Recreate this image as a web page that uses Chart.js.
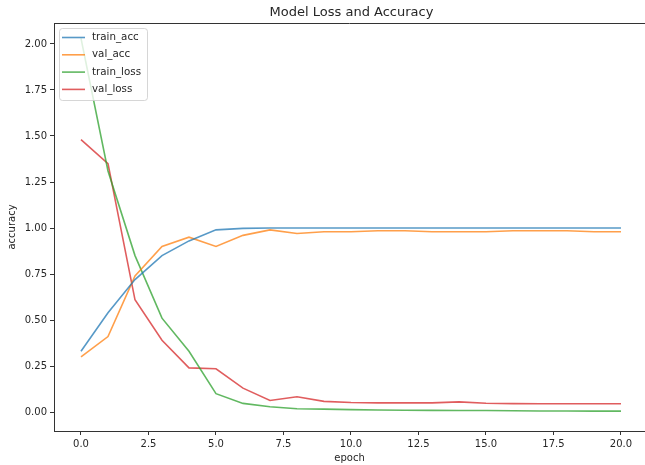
<!DOCTYPE html>
<html>
<head>
<meta charset="utf-8">
<script src="https://cdn.jsdelivr.net/npm/chart.js@4/dist/chart.umd.min.js"></script>
<style>
  body { margin: 0; background: #fff; }
  canvas { display: block; }
</style>
</head>
<body>
<canvas id="lossChart" width="645" height="465"></canvas>
<script>
// Valores
const epochs = [0, 1, 2, 3, 4, 5, 6, 7, 8, 9, 10, 11, 12, 13, 14, 15, 16, 17, 18, 19, 20];
const trainAcc = [0.33, 0.54, 0.72, 0.85, 0.93, 0.99, 0.998, 1.0, 1.0, 1.0, 1.0, 1.0, 1.0, 1.0, 1.0, 1.0, 1.0, 1.0, 1.0, 1.0, 1.0];
const valAcc = [0.30, 0.41, 0.74, 0.90, 0.95, 0.90, 0.96, 0.99, 0.97, 0.98, 0.98, 0.985, 0.985, 0.98, 0.98, 0.98, 0.985, 0.985, 0.985, 0.98, 0.98];
const trainLoss = [2.03, 1.31, 0.85, 0.51, 0.33, 0.10, 0.047, 0.029, 0.018, 0.016, 0.013, 0.011, 0.010, 0.009, 0.008, 0.008, 0.007, 0.006, 0.006, 0.005, 0.005];
const valLoss = [1.48, 1.35, 0.61, 0.39, 0.24, 0.235, 0.13, 0.063, 0.083, 0.058, 0.052, 0.05, 0.05, 0.05, 0.055, 0.048, 0.046, 0.045, 0.045, 0.045, 0.045];
const xTicks = [0, 2.5, 5, 7.5, 10, 12.5, 15, 17.5, 20];
const yTicks = [0, 0.25, 0.5, 0.75, 1.0, 1.25, 1.5, 1.75, 2.0];

const COLORS = {
    blue: "rgba(31, 119, 180, 0.75)",
    orange: "rgba(255, 127, 14, 0.75)",
    green: "rgba(44, 160, 44, 0.75)",
    red: "rgba(214, 39, 40, 0.75)",
    axis: "#333333",
    text: "#262626"
};
const FONT = "'DejaVu Sans', sans-serif";

function toPoints(values) {
    return epochs.map((e, i) => ({ x: e, y: values[i] }));
}

function makeSet(label, values, color) {
    return {
        label: label,
        data: toPoints(values),
        borderColor: color,
        backgroundColor: color,
        borderWidth: 1.6,
        pointRadius: 0,
        tension: 0,
        fill: false
    };
}

// Titulo, etiquetas de ejes, marco superior y leyenda dentro del area
const decorPlugin = {
    id: "decor",
    afterDatasetsDraw(chart) {
        const ctx = chart.ctx;
        const area = chart.chartArea;
        ctx.save();

        // marco superior
        ctx.strokeStyle = COLORS.axis;
        ctx.lineWidth = 1;
        ctx.beginPath();
        ctx.moveTo(area.left, area.top + 0.5);
        ctx.lineTo(area.right, area.top + 0.5);
        ctx.stroke();

        // leyenda
        const lx = area.left + 5, ly = area.top + 5, lw = 88, lh = 72;
        ctx.fillStyle = "rgba(255,255,255,0.8)";
        ctx.strokeStyle = "rgba(204,204,204,0.8)";
        ctx.beginPath();
        ctx.roundRect(lx + 0.5, ly + 0.5, lw, lh, 3);
        ctx.fill();
        ctx.stroke();
        ctx.font = "10.3px " + FONT;
        ctx.textBaseline = "middle";
        ctx.textAlign = "left";
        chart.data.datasets.forEach((ds, i) => {
            const y = ly + 9.5 + i * 17.3;
            ctx.strokeStyle = ds.borderColor;
            ctx.lineWidth = 1.6;
            ctx.beginPath();
            ctx.moveTo(lx + 3, y);
            ctx.lineTo(lx + 26, y);
            ctx.stroke();
            ctx.fillStyle = COLORS.text;
            ctx.fillText(ds.label, lx + 33, y);
        });

        // textos
        ctx.fillStyle = COLORS.text;
        ctx.textAlign = "center";
        ctx.font = "13px " + FONT;
        ctx.fillText("Model Loss and Accuracy", (area.left + area.right) / 2 + 2, 13);
        ctx.font = "10px " + FONT;
        ctx.fillText("epoch", (area.left + area.right) / 2, 458);
        ctx.translate(12, (area.top + area.bottom) / 2);
        ctx.rotate(-Math.PI / 2);
        ctx.fillText("accuracy", 0, 0);
        ctx.restore();
    }
};

document.addEventListener("DOMContentLoaded", function () {
    const canvas = document.getElementById("lossChart");

    new Chart(canvas, {
        type: "line",
        data: {
            datasets: [
                makeSet("train_acc", trainAcc, COLORS.blue),
                makeSet("val_acc", valAcc, COLORS.orange),
                makeSet("train_loss", trainLoss, COLORS.green),
                makeSet("val_loss", valLoss, COLORS.red)
            ]
        },
        plugins: [decorPlugin],
        options: {
            responsive: false,
            animation: false,
            layout: { padding: { left: 0, right: 0, top: 23, bottom: 0 } },
            scales: {
                x: {
                    type: "linear",
                    min: -1,
                    max: 20.89,
                    afterBuildTicks: scale => { scale.ticks = xTicks.map(v => ({ value: v })); },
                    afterFit: scale => { scale.height = 34; },
                    ticks: {
                        font: { family: FONT, size: 10 },
                        color: COLORS.text,
                        padding: 3,
                        maxRotation: 0,
                        autoSkip: false,
                        callback: value => Number(value).toFixed(1)
                    },
                    grid: { drawOnChartArea: false, drawTicks: true, tickLength: 4, tickColor: COLORS.axis },
                    border: { display: true, color: COLORS.axis, width: 1 }
                },
                y: {
                    type: "linear",
                    min: -0.103,
                    max: 2.114,
                    afterBuildTicks: scale => { scale.ticks = yTicks.map(v => ({ value: v })); },
                    afterFit: scale => { scale.width = 54; },
                    ticks: {
                        font: { family: FONT, size: 10 },
                        color: COLORS.text,
                        padding: 3,
                        autoSkip: false,
                        callback: value => Number(value).toFixed(2)
                    },
                    grid: { drawOnChartArea: false, drawTicks: true, tickLength: 4, tickColor: COLORS.axis },
                    border: { display: true, color: COLORS.axis, width: 1 }
                }
            },
            plugins: {
                legend: { display: false },
                title: { display: false },
                tooltip: { enabled: false }
            }
        }
    });
});
</script>
</body>
</html>
